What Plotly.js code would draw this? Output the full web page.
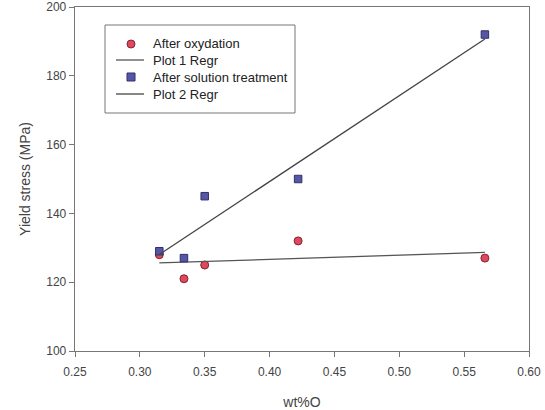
<!DOCTYPE html>
<html>
<head>
<meta charset="utf-8">
<script src="https://cdn.plot.ly/plotly-3.0.1.min.js"></script>
<style>html,body{margin:0;padding:0;background:#fff;}#chart{width:545px;height:410px;}</style>
</head>
<body>
<div id="chart"></div>
<script>
// Data
const wtO = [0.315, 0.334, 0.350, 0.422, 0.566];
const afterOxydation = [128, 121, 125, 132, 127];
const afterSolution = [129, 127, 145, 150, 192];
const seriesNames = ['After oxydation', 'Plot 1 Regr', 'After solution treatment', 'Plot 2 Regr'];
const xTicks = [0.25, 0.30, 0.35, 0.40, 0.45, 0.50, 0.55, 0.60];
const xTickLabels = ['0.25', '0.30', '0.35', '0.40', '0.45', '0.50', '0.55', '0.60'];
const yTicks = [100, 120, 140, 160, 180, 200];

// Least-squares regression through the data
function linfit(x, y) {
  const n = x.length;
  const mx = x.reduce((a, b) => a + b, 0) / n;
  const my = y.reduce((a, b) => a + b, 0) / n;
  let sxy = 0, sxx = 0;
  for (let i = 0; i < n; i++) { sxy += (x[i] - mx) * (y[i] - my); sxx += (x[i] - mx) ** 2; }
  const b = sxy / sxx, a = my - b * mx;
  const xs = [Math.min(...x), Math.max(...x)];
  return { x: xs, y: xs.map(v => a + b * v) };
}
const fit1 = linfit(wtO, afterOxydation);
const fit2 = linfit(wtO, afterSolution);

const font = 'Liberation Sans, Arial, sans-serif';
const W = 545, H = 410, M = { l: 75, r: 16, t: 7, b: 59 };
const pw = W - M.l - M.r, ph = H - M.t - M.b;
const px = v => (v - M.l) / pw;        // pixel -> paper x
const py = v => 1 - (v - M.t) / ph;    // pixel -> paper y

const styles = [
  { kind: 'circle', fill: '#dc4a5e', edge: '#8a2030' },
  { kind: 'line', color: '#555' },
  { kind: 'square', fill: '#5656a6', edge: '#30306a' },
  { kind: 'line', color: '#444' }
];

const traces = [
  { x: wtO, y: afterOxydation, mode: 'markers', type: 'scatter', name: seriesNames[0],
    marker: { symbol: 'circle', size: 8, color: styles[0].fill, line: { color: styles[0].edge, width: 1 } } },
  { x: fit1.x, y: fit1.y, mode: 'lines', type: 'scatter', name: seriesNames[1],
    line: { color: styles[1].color, width: 1.3 } },
  { x: wtO, y: afterSolution, mode: 'markers', type: 'scatter', name: seriesNames[2],
    marker: { symbol: 'square', size: 7.5, color: styles[2].fill, line: { color: styles[2].edge, width: 1 } } },
  { x: fit2.x, y: fit2.y, mode: 'lines', type: 'scatter', name: seriesNames[3],
    line: { color: styles[3].color, width: 1.3 } }
];

// Custom legend (box, symbols, text)
const shapes = [{
  type: 'rect', xref: 'paper', yref: 'paper',
  x0: px(105), x1: px(295), y0: py(25), y1: py(113),
  line: { color: '#777', width: 1 }, fillcolor: 'rgba(255,255,255,1)', layer: 'above'
}];
const annotations = [];
const rowY = [44, 60, 77, 94];
seriesNames.forEach((nm, i) => {
  const s = styles[i], yy = py(rowY[i]);
  if (s.kind === 'line') {
    shapes.push({ type: 'line', xref: 'paper', yref: 'paper', x0: px(116), x1: px(144), y0: yy, y1: yy,
      line: { color: s.color, width: 1.3 }, layer: 'above' });
  } else {
    shapes.push({ type: s.kind === 'circle' ? 'circle' : 'rect', xref: 'paper', yref: 'paper',
      xsizemode: 'pixel', ysizemode: 'pixel', xanchor: px(131), yanchor: yy,
      x0: -4, x1: 4, y0: -4, y1: 4, fillcolor: s.fill, line: { color: s.edge, width: 1 }, layer: 'above' });
  }
  annotations.push({ xref: 'paper', yref: 'paper', x: px(151), y: yy, xanchor: 'left', yanchor: 'middle',
    text: nm, showarrow: false, font: { family: font, size: 13, color: '#222' } });
});

const layout = {
  width: W, height: H, margin: M,
  paper_bgcolor: '#fff', plot_bgcolor: '#fff',
  font: { family: font, color: '#444', size: 12 },
  showlegend: false,
  shapes: shapes, annotations: annotations,
  xaxis: {
    range: [0.25, 0.60], tickvals: xTicks, ticktext: xTickLabels,
    showgrid: false, zeroline: false, showline: true, mirror: true,
    linecolor: '#777', linewidth: 1.3,
    ticks: 'outside', ticklen: 5, tickcolor: '#777', ticklabelstandoff: 4,
    tickfont: { family: font, size: 12, color: '#444' },
    title: { text: 'wt%O', font: { family: font, size: 14, color: '#444' }, standoff: 20 }
  },
  yaxis: {
    range: [100, 200], tickvals: yTicks,
    showgrid: false, zeroline: false, showline: true, mirror: true,
    linecolor: '#777', linewidth: 1.3,
    ticks: 'outside', ticklen: 5, tickcolor: '#777',
    tickfont: { family: font, size: 12, color: '#444' },
    title: { text: 'Yield stress (MPa)', font: { family: font, size: 14, color: '#444' }, standoff: 12 }
  }
};

Plotly.newPlot('chart', traces, layout, { displayModeBar: false, staticPlot: true });
</script>
</body>
</html>
